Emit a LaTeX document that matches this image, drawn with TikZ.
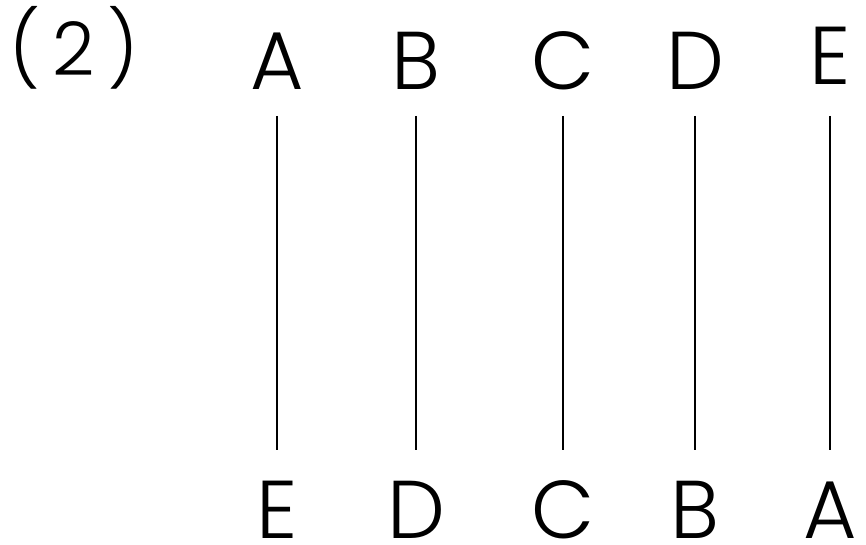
\documentclass[tikz,border=0pt]{standalone}
\usepackage{fontspec}
\setmainfont{Poppins}[UprightFont=* Light]
\begin{document}
\begin{tikzpicture}[x=1pt,y=-1pt,
  letter/.style={anchor=base,inner sep=0pt,text depth=0pt,font=\fontsize{82}{82}\selectfont},
  tie/.style={line width=1.6pt}]
\useasboundingbox (0,0) rectangle (866,545);
\node[letter,anchor=base west,font=\fontsize{74}{74}\selectfont] (lbl) at (9,76) {(\,2\,)};
\foreach \n/\t/\b/\x/\ty in {1/A/E/277/90,2/B/D/416/90,3/C/C/563/90,4/D/B/695/90,5/E/A/830/85}{
  \node[letter] (t\n) at (\x,\ty) {\t};
  \node[letter] (b\n) at (\x,538) {\b};
  \coordinate (u\n) at (\x,116);
  \coordinate (d\n) at (\x,450);
  \draw[tie] (u\n) -- (d\n);
}
\end{tikzpicture}
\end{document}
